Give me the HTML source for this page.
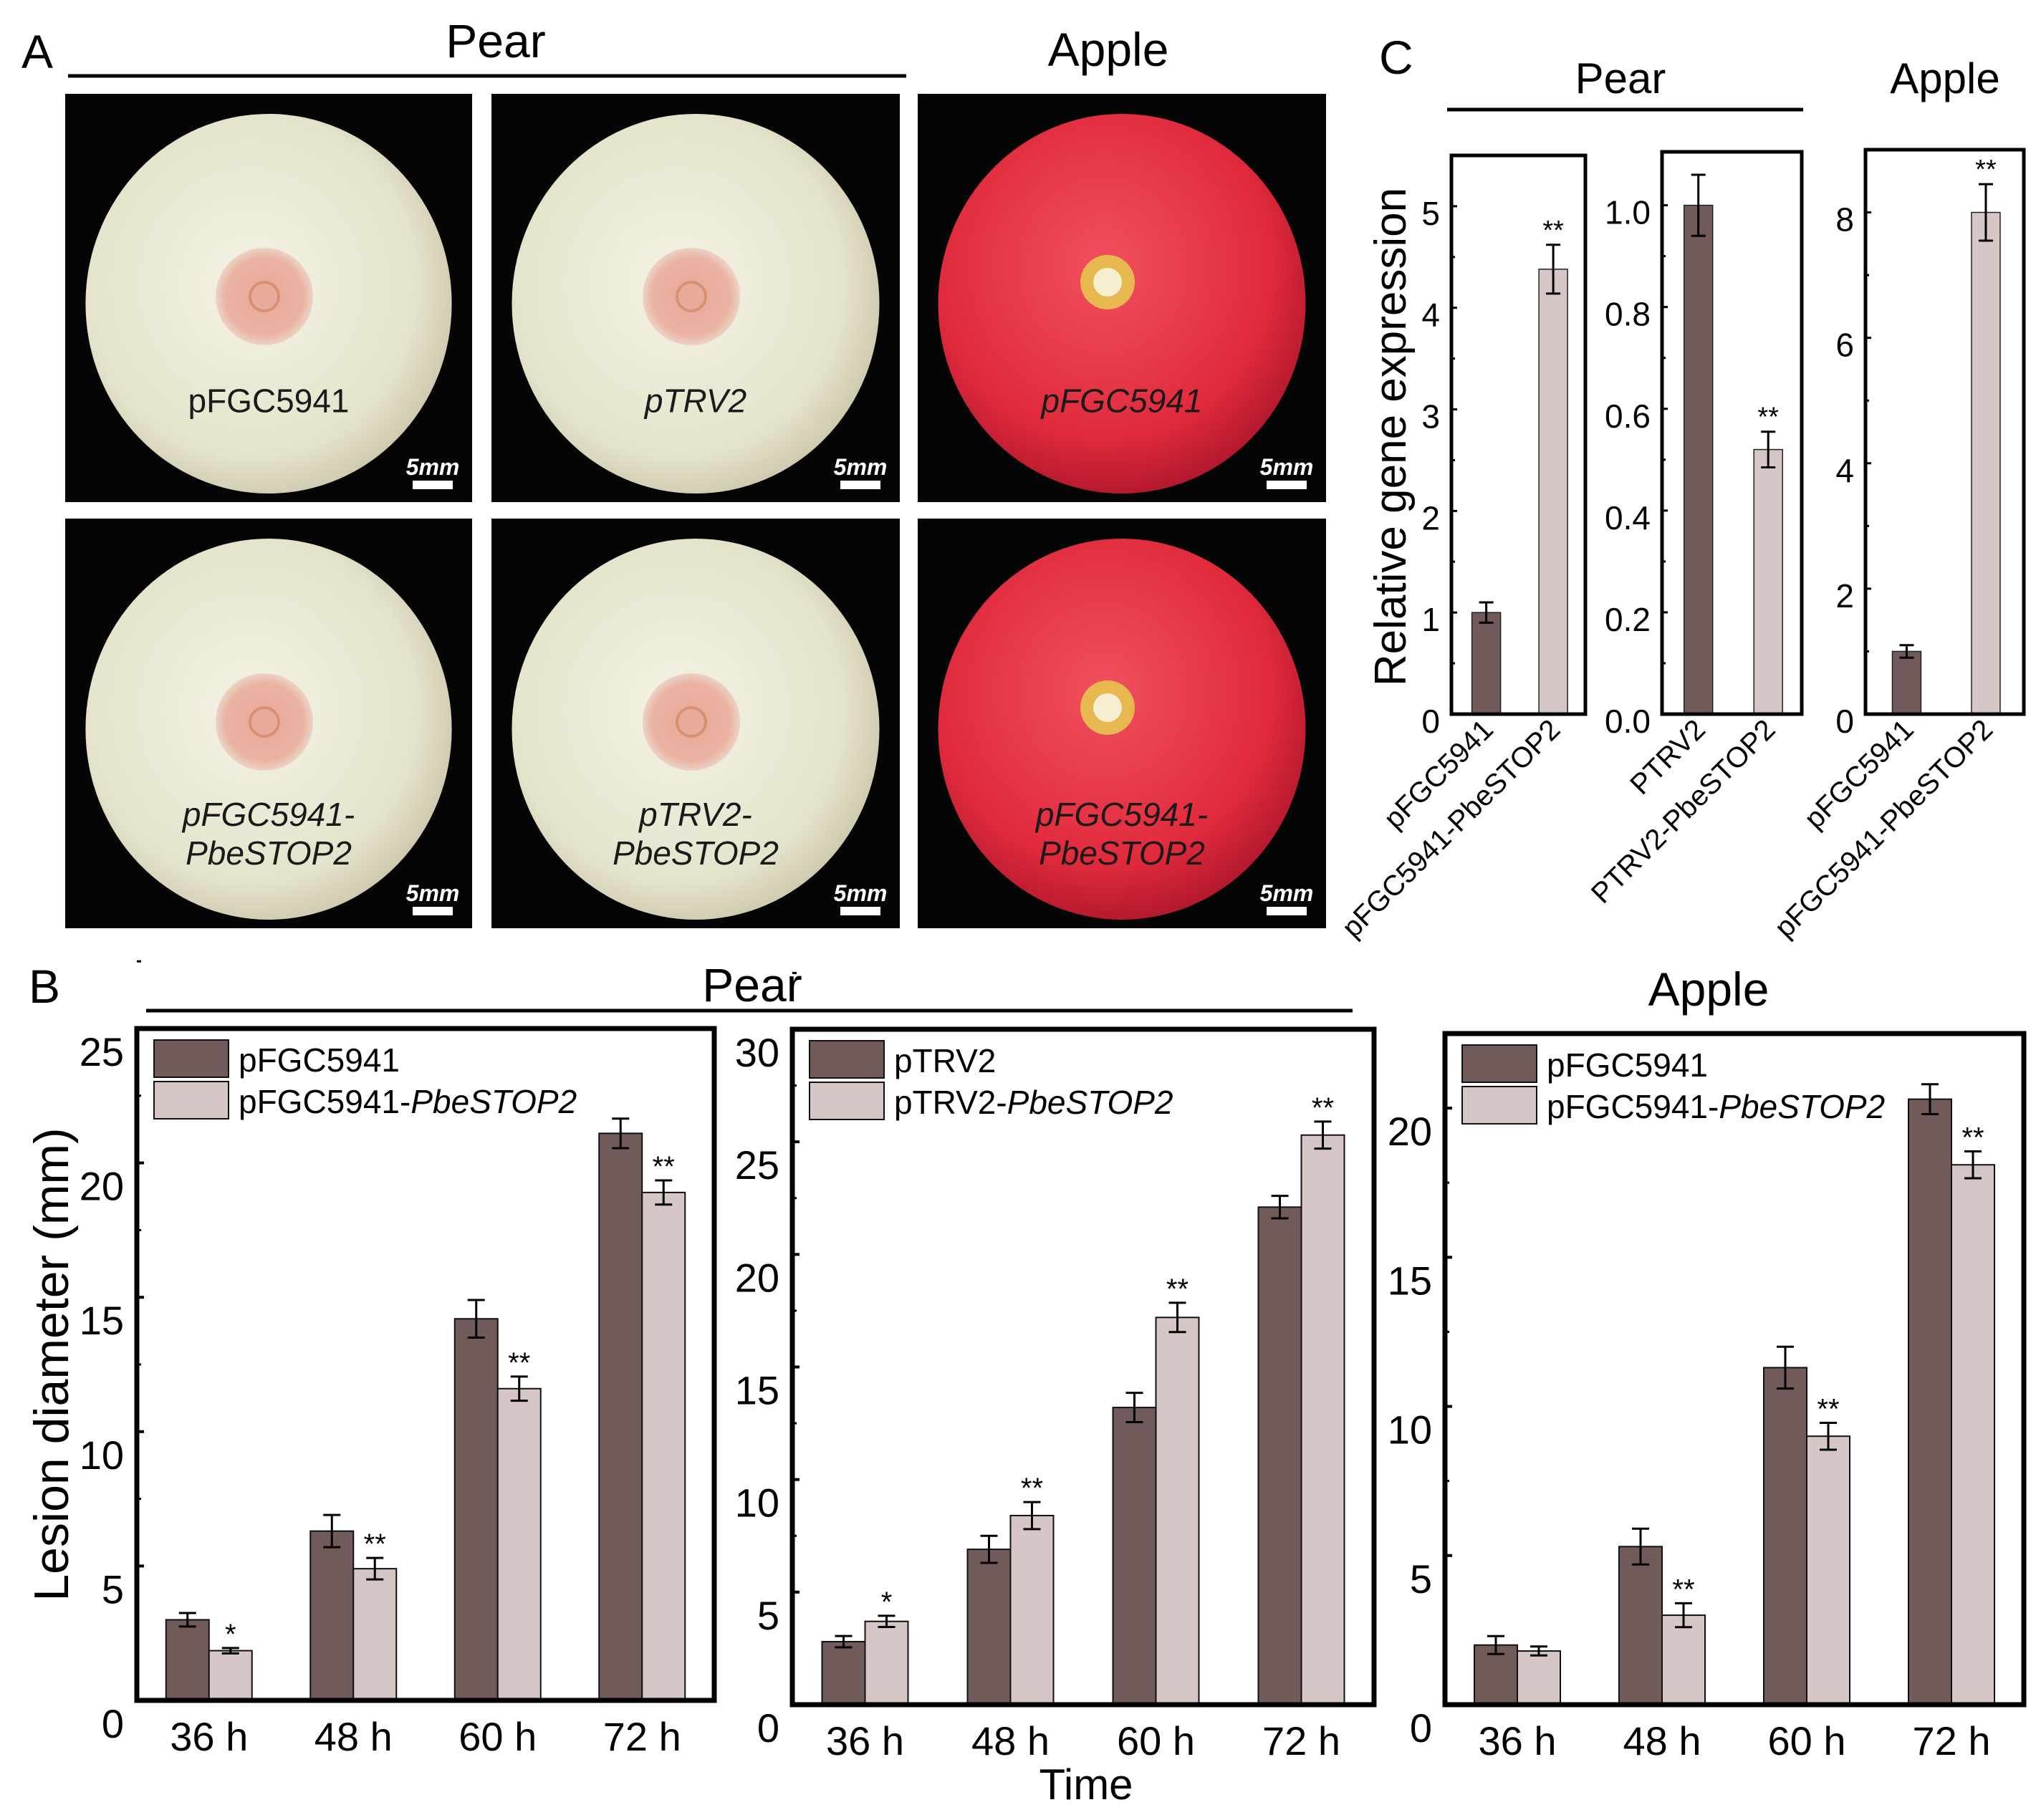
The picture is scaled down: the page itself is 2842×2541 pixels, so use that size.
<!DOCTYPE html>
<html><head><meta charset="utf-8"><style>
html,body{margin:0;padding:0;background:#fff}
svg{display:block;font-family:"Liberation Sans",Arial,sans-serif}
</style></head><body>
<svg id="fig" width="2842" height="2541" viewBox="0 0 2842 2541" xmlns="http://www.w3.org/2000/svg">
<defs>
<radialGradient id="pearG" cx="0.45" cy="0.45" r="0.6"><stop offset="0" stop-color="#f4f2e4"/><stop offset="0.75" stop-color="#e6e3cc"/><stop offset="1" stop-color="#c9c4a8"/></radialGradient>
<radialGradient id="appleG" cx="0.45" cy="0.4" r="0.65"><stop offset="0" stop-color="#f0505e"/><stop offset="0.7" stop-color="#e02a3c"/><stop offset="1" stop-color="#a8142a"/></radialGradient>
<radialGradient id="lesG" cx="0.5" cy="0.5" r="0.5"><stop offset="0" stop-color="#e8a898"/><stop offset="0.8" stop-color="#eab3a4"/><stop offset="1" stop-color="#ecd3c4"/></radialGradient>
</defs>
<g id="panelA">
<text x="30" y="95" font-size="66">A</text>
<text x="692" y="80" font-size="66" text-anchor="middle">Pear</text>
<line x1="95" y1="106" x2="1265" y2="106" stroke="#000" stroke-width="5"/>
<text x="1547" y="92" font-size="66" text-anchor="middle">Apple</text>
</g>
<g id="panelB">
<text x="40" y="1400" font-size="66">B</text>
<text x="1050" y="1398" font-size="66" text-anchor="middle">Pear</text>
<line x1="204" y1="1411" x2="1888" y2="1411" stroke="#000" stroke-width="5"/>
<text x="2385" y="1404" font-size="66" text-anchor="middle">Apple</text>
<text x="1516" y="2512" font-size="60" text-anchor="middle">Time</text>
<text transform="translate(95,1905) rotate(-90)" font-size="68" text-anchor="middle">Lesion diameter (mm)</text>
</g>
<g id="panelC">
<text x="1925" y="103" font-size="66">C</text>
<text x="2262" y="130" font-size="60" text-anchor="middle">Pear</text>
<line x1="2020" y1="153" x2="2517" y2="153" stroke="#000" stroke-width="5"/>
<text x="2715" y="130" font-size="60" text-anchor="middle">Apple</text>
<text transform="translate(1962,610) rotate(-90)" font-size="62" text-anchor="middle">Relative gene expression</text>
</g>
</svg>
<script>
// ---- Panel B data ----
const timeCats = ["36 h","48 h","60 h","72 h"];
const pear1Ctrl = [3.0, 6.3, 14.2, 21.1];
const pear1CtrlErr = [0.25, 0.6, 0.7, 0.55];
const pear1Trt = [1.85, 4.9, 11.6, 18.9];
const pear1TrtErr = [0.1, 0.4, 0.45, 0.45];
const pear1Sig = ["*","**","**","**"];
const pear1Ticks = [0,5,10,15,20,25];
const pear2Ctrl = [2.8, 6.9, 13.2, 22.1];
const pear2CtrlErr = [0.25, 0.6, 0.65, 0.5];
const pear2Trt = [3.7, 8.4, 17.2, 25.3];
const pear2TrtErr = [0.25, 0.6, 0.65, 0.6];
const pear2Sig = ["*","**","**","**"];
const pear2Ticks = [0,5,10,15,20,25,30];
const appleCtrl = [2.0, 5.3, 11.3, 20.3];
const appleCtrlErr = [0.3, 0.6, 0.7, 0.5];
const appleTrt = [1.8, 3.0, 9.0, 18.1];
const appleTrtErr = [0.15, 0.4, 0.45, 0.45];
const appleSig = ["","**","**","**"];
const appleTicks = [0,5,10,15,20];
// ---- Panel C data ----
const cCats1 = ["pFGC5941","pFGC5941-PbeSTOP2"];
const cVals1 = [1.0, 4.38];
const cErr1 = [0.1, 0.24];
const cTicks1 = [0,1,2,3,4,5];
const cCats2 = ["PTRV2","PTRV2-PbeSTOP2"];
const cVals2 = [1.0, 0.52];
const cErr2 = [0.06, 0.035];
const cTicks2 = [0.0,0.2,0.4,0.6,0.8,1.0];
const cCats3 = ["pFGC5941","pFGC5941-PbeSTOP2"];
const cVals3 = [1.0, 8.0];
const cErr3 = [0.1, 0.45];
const cTicks3 = [0,2,4,6,8];

const NS="http://www.w3.org/2000/svg";
const svg=document.getElementById('fig');
function mk(tag,attrs,parent){const e=document.createElementNS(NS,tag);for(const k in attrs)e.setAttribute(k,attrs[k]);(parent||svg).appendChild(e);return e;}
const DARK="#705a5a", LIGHT="#d6c6c6";

// ---- Photos ----
const photos=[
 {x:91,y:131,w:568,h:570,kind:"pear",label:["pFGC5941"],ital:false},
 {x:686,y:131,w:570,h:570,kind:"pear",label:["pTRV2"],ital:true},
 {x:1281,y:131,w:570,h:570,kind:"apple",label:["pFGC5941"],ital:true},
 {x:91,y:724,w:568,h:572,kind:"pear",label:["pFGC5941-","PbeSTOP2"],ital:true},
 {x:686,y:724,w:570,h:572,kind:"pear",label:["pTRV2-","PbeSTOP2"],ital:true},
 {x:1281,y:724,w:570,h:572,kind:"apple",label:["pFGC5941-","PbeSTOP2"],ital:true}
];
photos.forEach((p,i)=>{
 const g=mk('g',{});
 
 
 mk('rect',{x:p.x,y:p.y,width:p.w,height:p.h,fill:"#050505"},g);
 const cx=p.x+p.w/2, cy=p.y+p.h/2+8;
 mk('ellipse',{cx:cx,cy:cy,rx:p.w*0.45,ry:p.h*0.465,fill:p.kind=="pear"?"url(#pearG)":"url(#appleG)"},g);
 if(p.kind=="pear"){
  mk('circle',{cx:cx-6,cy:cy-10,r:68,fill:"url(#lesG)"},g);
  mk('circle',{cx:cx-6,cy:cy-10,r:20,fill:"none",stroke:"#d89070","stroke-width":4},g);
 } else {
  mk('circle',{cx:cx-20,cy:cy-30,r:38,fill:"#e8b850"},g);
  mk('circle',{cx:cx-20,cy:cy-30,r:20,fill:"#f6eed0"},g);
 }
 const lab=mk('text',{x:cx,y:p.label.length==1?p.y+p.h*0.78:p.y+p.h*0.75,"font-size":46,"text-anchor":"middle",fill:"#1a1a1a","font-style":p.ital?"italic":"normal"},g);
 p.label.forEach((t,j)=>{const ts=mk('tspan',{x:cx,dy:j?54:0},lab);ts.textContent=t;});
 
 
 const sb=mk('text',{x:p.x+p.w-55,y:p.y+p.h-38,"font-size":32,"font-weight":"bold","font-style":"italic",fill:"#fff","text-anchor":"middle"},g);
 sb.textContent="5mm";
 
 
 mk('rect',{x:p.x+p.w-83,y:p.y+p.h-30,width:56,height:12,fill:"#fff"},g);
});

// ---- Grouped bar chart ----
function grouped(o){
 const g=mk('g',{});
 
 
 const x0=o.x0,x1=o.x1,y0=o.y0,y1=o.y1,max=o.max;
 const ys=v=>y1-(v/max)*(y1-y0);
 const n=timeCats.length, step=(x1-x0)/n;
 const bw=60;
 for(let i=0;i<n;i++){
  const c=x0+step*(i+0.5);
  [[o.ctrl,o.ce,DARK,-1],[o.trt,o.te,LIGHT,0]].forEach(([arr,err,col,off],k)=>{
   const bx=c+off*bw, by=ys(arr[i]);
   const r=mk('rect',{x:bx,y:by,width:bw,height:y1-by,fill:col,stroke:"#111","stroke-width":2},g);
   
   
   const ex=bx+bw/2, et=ys(arr[i]+err[i]), eb=ys(arr[i]-err[i]);
   mk('path',{d:`M${ex},${et}V${eb}M${ex-12},${et}H${ex+12}M${ex-12},${eb}H${ex+12}`,stroke:"#000","stroke-width":3,fill:"none"},g);
   if(k==1&&o.sig[i]){const s=mk('text',{x:ex,y:et-6,"font-size":40,"text-anchor":"middle"},g);s.textContent=o.sig[i];
    
    }
  });
  const t=mk('text',{x:c,y:y1+70,"font-size":56,"text-anchor":"middle"},g);
  t.textContent=timeCats[i];
  
  
 }
 o.ticks.forEach(v=>{
  const y=ys(v);
  if(v>0){mk('line',{x1:x0,x2:x0+10,y1:y,y2:y,stroke:"#000","stroke-width":4},g);
   mk('line',{x1:x0,x2:x0+6,y1:y-(y1-y0)*2.5/max,y2:y-(y1-y0)*2.5/max,stroke:"#000","stroke-width":3},g);}
  const t=mk('text',{x:x0-18,y:y+52,"font-size":56,"text-anchor":"end"},g);
  t.textContent=v;
  
  
 });
 mk('rect',{x:x0,y:y0,width:x1-x0,height:y1-y0,fill:"none",stroke:"#000","stroke-width":7},g);
 // legend
 const lx=x0+24, ly=y0+16;
 [[DARK,o.leg[0]],[LIGHT,o.leg[1]]].forEach(([col,txt],k)=>{
  const r=mk('rect',{x:lx,y:ly+k*58,width:104,height:52,fill:col,stroke:"#111","stroke-width":2},g);
  
  
  const t=mk('text',{x:lx+118,y:ly+k*58+44,"font-size":46},g);
  const a=mk('tspan',{},t);a.textContent=txt[0];
  if(txt[1]){const b=mk('tspan',{"font-style":"italic"},t);b.textContent=txt[1];}
  
  
 });
}
grouped({name:"pear-pfgc-chart",x0:191,x1:997,y0:1436,y1:2374,max:25,ctrl:pear1Ctrl,ce:pear1CtrlErr,trt:pear1Trt,te:pear1TrtErr,sig:pear1Sig,ticks:pear1Ticks,leg:[["pFGC5941"],["pFGC5941-","PbeSTOP2"]]});
grouped({name:"pear-ptrv-chart",x0:1106,x1:1918,y0:1437,y1:2380,max:30,ctrl:pear2Ctrl,ce:pear2CtrlErr,trt:pear2Trt,te:pear2TrtErr,sig:pear2Sig,ticks:pear2Ticks,leg:[["pTRV2"],["pTRV2-","PbeSTOP2"]]});
grouped({name:"apple-chart",x0:2017,x1:2825,y0:1443,y1:2380,max:22.5,ctrl:appleCtrl,ce:appleCtrlErr,trt:appleTrt,te:appleTrtErr,sig:appleSig,ticks:appleTicks,leg:[["pFGC5941"],["pFGC5941-","PbeSTOP2"]]});

// ---- Panel C charts ----
function expr(o){
 const g=mk('g',{});
 
 
 const ys=v=>o.y1-(v/o.max)*(o.y1-o.y0);
 const w=o.x1-o.x0;
 const cs=[o.x0+w*0.26,o.x0+w*0.76];
 o.vals.forEach((v,i)=>{
  const bw=40,bx=cs[i]-bw/2,by=ys(v);
  const r=mk('rect',{x:bx,y:by,width:bw,height:o.y1-by,fill:i?LIGHT:DARK,stroke:"#222","stroke-width":1.5},g);
  
  
  const et=ys(v+o.err[i]),eb=ys(v-o.err[i]);
  mk('path',{d:`M${cs[i]},${et}V${eb}M${cs[i]-10},${et}H${cs[i]+10}M${cs[i]-10},${eb}H${cs[i]+10}`,stroke:"#000","stroke-width":3,fill:"none"},g);
  if(i==1){const s=mk('text',{x:cs[i],y:et-8,"font-size":38,"text-anchor":"middle"},g);s.textContent="**";
   
   }
  const t=mk('text',{x:0,y:0,"font-size":40,"text-anchor":"end",transform:`translate(${cs[i]+12},${o.y1+24}) rotate(-45)`},g);
  t.textContent=o.cats[i];
  
  
 });
 o.ticks.forEach((v,k)=>{
  const y=ys(v);
  mk('line',{x1:o.x0,x2:o.x0+8,y1:y,y2:y,stroke:"#000","stroke-width":3},g);
  if(k<o.ticks.length-1){const ym=ys(v+(o.ticks[1]-o.ticks[0])/2);mk('line',{x1:o.x0,x2:o.x0+5,y1:ym,y2:ym,stroke:"#000","stroke-width":3},g);}
  const t=mk('text',{x:o.x0-16,y:y+26,"font-size":46,"text-anchor":"end"},g);
  t.textContent=o.fmt?v.toFixed(1):v;
  
  
 });
 mk('rect',{x:o.x0,y:o.y0,width:o.x1-o.x0,height:o.y1-o.y0,fill:"none",stroke:"#000","stroke-width":5},g);
}
expr({name:"expr-pear-pfgc",x0:2026,x1:2213,y0:217,y1:997,max:5.5,vals:cVals1,err:cErr1,cats:cCats1,ticks:cTicks1});
expr({name:"expr-pear-ptrv",x0:2320,x1:2515,y0:212,y1:997,max:1.105,vals:cVals2,err:cErr2,cats:cCats2,ticks:cTicks2,fmt:true});
expr({name:"expr-apple",x0:2604,x1:2825,y0:209,y1:997,max:9,vals:cVals3,err:cErr3,cats:cCats3,ticks:cTicks3});
</script>
</body></html>
